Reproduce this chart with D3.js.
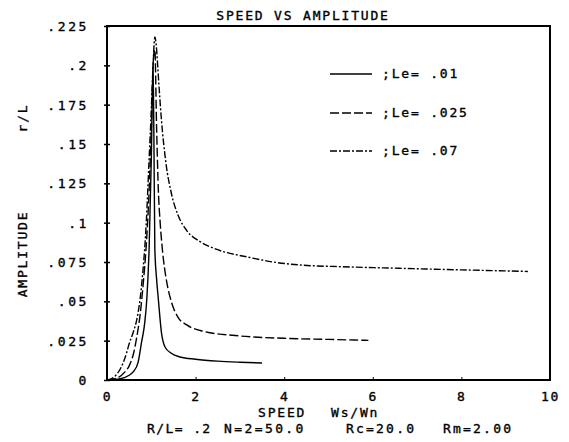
<!DOCTYPE html>
<html><head><meta charset="utf-8">
<script src="https://cdn.jsdelivr.net/npm/d3@7"></script>
<style>
body{margin:0;background:#fff;}
text{font-family:"DejaVu Sans Mono",monospace;font-size:13px;fill:#000;stroke:#000;stroke-width:0.35px;}
</style></head>
<body><svg id="c" width="569" height="442"></svg>
<script>
const title = "SPEED VS AMPLITUDE";
const yTicks = [0, 0.025, 0.05, 0.075, 0.1, 0.125, 0.15, 0.175, 0.2, 0.225];
const yTickLabels = ["0", ".025", ".05", ".075", ".1", ".125", ".15", ".175", ".2", ".225"];
const xTicks = [0, 2, 4, 6, 8, 10];
const seriesNames = [";Le= .01", ";Le= .025", ";Le= .07"];
const footer = ["R/L= .2", "N=2=50.0", "Rc=20.0", "Rm=2.00"];

const x01 = [0, 0.3, 0.5, 0.6, 0.7, 0.78, 0.85, 0.9, 0.95, 1.0, 1.04, 1.06, 1.08, 1.12, 1.16, 1.23, 1.31, 1.45, 1.65, 2.0, 2.5, 3.0, 3.5];
const y01 = [0, 0.0008, 0.003, 0.0055, 0.011, 0.024, 0.036, 0.052, 0.083, 0.14, 0.20, 0.15, 0.083, 0.064, 0.051, 0.030, 0.021, 0.017, 0.0146, 0.0132, 0.012, 0.0113, 0.0108];

const x025 = [0, 0.2, 0.4, 0.5, 0.6, 0.67, 0.75, 0.82, 0.88, 0.95, 1.0, 1.05, 1.08, 1.12, 1.16, 1.2, 1.25, 1.35, 1.45, 1.6, 1.8, 2.17, 3.0, 4.0, 5.0, 5.9];
const y025 = [0, 0.001, 0.005, 0.009, 0.017, 0.027, 0.042, 0.062, 0.083, 0.12, 0.16, 0.205, 0.21, 0.16, 0.12, 0.10, 0.083, 0.062, 0.050, 0.040, 0.035, 0.031, 0.028, 0.0265, 0.0258, 0.0252];

const x07 = [0, 0.1, 0.2, 0.3, 0.44, 0.5, 0.6, 0.67, 0.78, 0.89, 0.95, 0.99, 1.04, 1.08, 1.12, 1.15, 1.23, 1.33, 1.45, 1.6, 1.8, 2.1, 2.48, 3.2, 3.75, 4.4, 5.3, 6.6, 8.0, 9.5];
const y07 = [0, 0.0008, 0.003, 0.007, 0.017, 0.023, 0.031, 0.038, 0.06, 0.102, 0.14, 0.165, 0.20, 0.218, 0.21, 0.197, 0.165, 0.138, 0.119, 0.105, 0.095, 0.088, 0.083, 0.078, 0.075, 0.073, 0.072, 0.071, 0.070, 0.069];

const svg = d3.select("#c");
const L = 107, R = 550, T = 26, B = 380;
const xs = d3.scaleLinear().domain([0, 10]).range([L, R]);
const ys = d3.scaleLinear().domain([0, 0.225]).range([B, T]);

const series = [
  {name: seriesNames[0], xs: x01, ys: y01, dash: null},
  {name: seriesNames[1], xs: x025, ys: y025, dash: "9,3"},
  {name: seriesNames[2], xs: x07, ys: y07, dash: "7,2,2,2"}
];

const line = d3.line().x(d => xs(d[0])).y(d => ys(d[1])).curve(d3.curveMonotoneX);
series.forEach(s => {
  const pts = s.xs.map((v, i) => [v, s.ys[i]]);
  svg.append("path").attr("d", line(pts)).attr("fill", "none")
    .attr("stroke", "#000").attr("stroke-width", 1.4)
    .attr("stroke-dasharray", s.dash);
});

// frame
svg.append("rect").attr("x", L).attr("y", T).attr("width", R - L).attr("height", B - T)
  .attr("fill", "none").attr("stroke", "#000").attr("stroke-width", 2);

// y axis
const yAxis = d3.axisLeft(ys).tickValues(yTicks).tickSize(3).tickPadding(15)
  .tickFormat((d, i) => yTickLabels[i]);
const gy = svg.append("g").attr("transform", `translate(${L},0)`).call(yAxis);
gy.select(".domain").remove();
gy.selectAll(".tick line").attr("x2", 3).attr("x1", -3).attr("stroke-width", 1.5);
gy.selectAll("text").style("font-family", "DejaVu Sans Mono").style("font-size", "13px")
  .attr("letter-spacing", "2.6px").attr("dy", "0.35em");

// x axis
const xAxis = d3.axisBottom(xs).tickValues(xTicks).tickSize(3).tickPadding(9).tickFormat(d3.format("d"));
const gx = svg.append("g").attr("transform", `translate(0,${B})`).call(xAxis);
gx.select(".domain").remove();
gx.selectAll(".tick line").attr("y1", -3).attr("y2", 0).attr("stroke-width", 1);
gx.selectAll("text").style("font-family", "DejaVu Sans Mono").style("font-size", "13px")
  .attr("letter-spacing", "1.8px");

// title
svg.append("text").attr("x", 303).attr("y", 20).attr("text-anchor", "middle")
  .attr("letter-spacing", "1.8px").text(title);

// y labels
svg.append("text").attr("transform", "translate(27,254) rotate(-90)").attr("text-anchor", "middle")
  .attr("letter-spacing", "1.8px").text("AMPLITUDE");
svg.append("text").attr("transform", "translate(27,118) rotate(-90)").attr("text-anchor", "middle")
  .attr("letter-spacing", "1.8px").text("r/L");

// x labels
svg.append("text").attr("x", 258).attr("y", 417).attr("letter-spacing", "1.8px").text("SPEED");
svg.append("text").attr("x", 331).attr("y", 417).attr("letter-spacing", "1.8px").text("Ws/Wn");
const footX = [147, 224, 346, 443];
const footLS = [1.4, 2.4, 2.2, 2.2];
footer.forEach((f, i) => svg.append("text").attr("x", footX[i]).attr("y", 433)
  .attr("letter-spacing", footLS[i] + "px").text(f));

// legend
const legY = [74, 113, 151];
series.forEach((s, i) => {
  svg.append("line").attr("x1", 330).attr("x2", 372).attr("y1", legY[i]).attr("y2", legY[i])
    .attr("stroke", "#000").attr("stroke-width", 1.3).attr("stroke-dasharray", s.dash);
  svg.append("text").attr("x", 382).attr("y", legY[i] + 4).attr("letter-spacing", "1.8px").text(s.name);
});
</script></body></html>
